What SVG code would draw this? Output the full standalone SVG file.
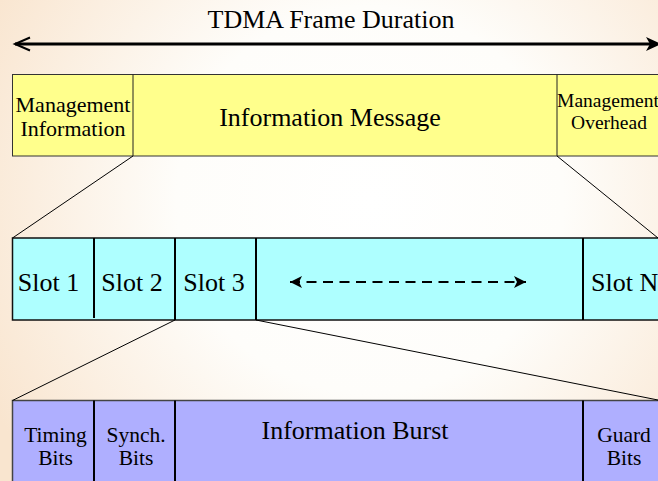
<svg xmlns="http://www.w3.org/2000/svg" width="658" height="481" viewBox="0 0 658 481">
  <defs>
    <radialGradient id="bg" gradientUnits="userSpaceOnUse" cx="370" cy="200" r="430">
      <stop offset="0" stop-color="#FFFFFF"/>
      <stop offset="0.45" stop-color="#FEFDFA"/>
      <stop offset="1" stop-color="#F9E5CF"/>
    </radialGradient>
    <marker id="head" viewBox="0 0 12 12" markerUnits="userSpaceOnUse" markerWidth="13" markerHeight="12" refX="12" refY="6" orient="auto-start-reverse">
      <path d="M0,0 L12,6 L0,12 L3,6 Z" fill="#000"/>
    </marker>
  </defs>
  <style>
    text { font-family: "Liberation Serif", "Times New Roman", serif; fill: #000; text-anchor: middle; }
    .t26 { font-size: 26px; }
    .t22 { font-size: 22px; }
    .t21 { font-size: 21.5px; }
    .t19 { font-size: 19.5px; }
    .frame { fill: #FFFF8C; stroke: #333; stroke-width: 1; }
    .slots { fill: #AEFFFF; stroke: #111; stroke-width: 1.5; }
    .burst { fill: #AFAFFF; stroke: #444; stroke-width: 1.5; }
    .div1 { stroke: #222; stroke-width: 1; }
    .div2 { stroke: #000; stroke-width: 2; }
    .conn { stroke: #000; stroke-width: 1; fill: none; }
  </style>

  <rect width="658" height="481" fill="url(#bg)"/>

  <!-- frame duration arrow -->
  <g id="duration">
    <line x1="15" y1="44" x2="652" y2="44" stroke="#000" stroke-width="3"/>
    <polyline points="30,37.5 15,44 30,50.5" fill="none" stroke="#000" stroke-width="2"/>
    <path d="M661,44 L646,37 L650,44 L646,51 Z" fill="#000"/>
    <text class="t26" x="331" y="28">TDMA Frame Duration</text>
  </g>

  <!-- frame row -->
  <g id="frame">
    <rect class="frame" x="12.5" y="74.5" width="660" height="81.5"/>
    <line class="div1" x1="133" y1="74.5" x2="133" y2="156"/>
    <line class="div1" x1="557" y1="74.5" x2="557" y2="156"/>
    <text class="t22" x="73" y="112">Management</text>
    <text class="t22" x="73" y="136">Information</text>
    <text class="t26" x="330" y="126">Information Message</text>
    <text class="t19" x="608" y="107">Management</text>
    <text class="t19" x="609" y="129">Overhead</text>
  </g>

  <!-- slot row -->
  <g id="slots">
    <rect class="slots" x="12.5" y="238" width="660" height="82"/>
    <line class="div2" x1="94" y1="238" x2="94" y2="318"/>
    <line class="div2" x1="175" y1="238" x2="175" y2="320"/>
    <line class="div2" x1="256" y1="238" x2="256" y2="320"/>
    <line class="div2" x1="583" y1="238" x2="583" y2="320"/>
    <text class="t26" x="48.5" y="291">Slot 1</text>
    <text class="t26" x="132" y="291">Slot 2</text>
    <text class="t26" x="214" y="291">Slot 3</text>
    <text class="t26" x="591" y="291" style="text-anchor:start">Slot N</text>
    <line x1="290" y1="282" x2="526" y2="282" stroke="#000" stroke-width="2" stroke-dasharray="10 6.5" marker-start="url(#head)" marker-end="url(#head)"/>
  </g>

  <!-- burst row -->
  <g id="burst">
    <rect class="burst" x="12.5" y="400.5" width="660" height="100"/>
    <line class="div2" x1="94" y1="400.5" x2="94" y2="481"/>
    <line class="div2" x1="175" y1="400.5" x2="175" y2="481"/>
    <line class="div2" x1="583" y1="400.5" x2="583" y2="481"/>
    <text class="t21" x="55.5" y="442">Timing</text>
    <text class="t21" x="55.5" y="465">Bits</text>
    <text class="t21" x="136" y="442">Synch.</text>
    <text class="t21" x="136" y="465">Bits</text>
    <text class="t26" x="355" y="439">Information Burst</text>
    <text class="t21" x="624" y="442">Guard</text>
    <text class="t21" x="624" y="465">Bits</text>
  </g>

  <!-- expansion connectors -->
  <g id="connectors">
    <line class="conn" x1="133" y1="156" x2="12.5" y2="238"/>
    <line class="conn" x1="557" y1="156" x2="658" y2="238"/>
    <line class="conn" x1="175" y1="320" x2="12.5" y2="400.5"/>
    <line class="conn" x1="256" y1="320" x2="658" y2="400"/>
  </g>
</svg>
